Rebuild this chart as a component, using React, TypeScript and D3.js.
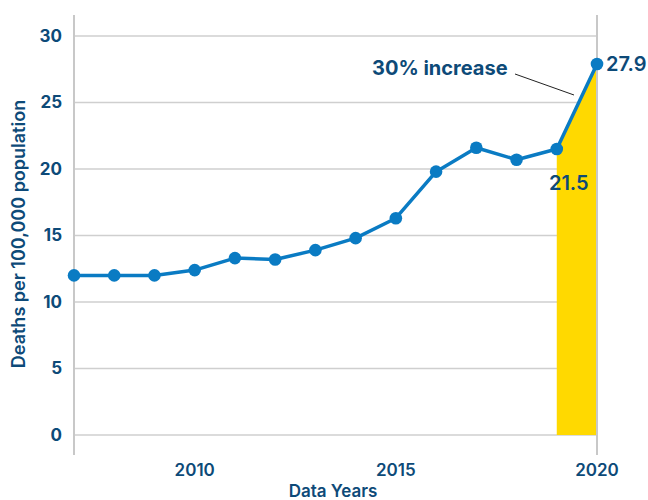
import React from "react";
import * as d3 from "d3";

const years = [2007, 2008, 2009, 2010, 2011, 2012, 2013, 2014, 2015, 2016, 2017, 2018, 2019, 2020];
const rates = [12.0, 12.0, 12.0, 12.4, 13.3, 13.2, 13.9, 14.8, 16.3, 19.8, 21.6, 20.7, 21.5, 27.9];
const yTicks = [0, 5, 10, 15, 20, 25, 30];
const xTicks = [2010, 2015, 2020];
const highlightYears = [2019, 2020];

const W = 648, H = 500;
const left = 74, right = 597, top = 36, bottom = 435;
const textColor = "#0d4a78";
const lineColor = "#0a7bc3";
const font = "Inter, 'Open Sans', sans-serif";

export default function App() {
  const x = d3.scaleLinear().domain([2007, 2020]).range([left, right]);
  const y = d3.scaleLinear().domain([0, 30]).range([bottom, top]);
  const pts = years.map((yr, i) => ({ yr, v: rates[i] }));
  const line = d3.line<{ yr: number; v: number }>().x(d => x(d.yr)).y(d => y(d.v));
  const area = d3.area<{ yr: number; v: number }>().x(d => x(d.yr)).y0(y(0)).y1(d => y(d.v));
  const hl = pts.filter(p => highlightYears.includes(p.yr));
  const last = pts[pts.length - 1];
  const prev = pts[pts.length - 2];
  return (
    <svg width={W} height={H} style={{ position: "absolute", left: 0, top: 0 }} fontFamily={font}>
      <rect width={W} height={H} fill="#fff" />
      {yTicks.map(t => (
        <g key={t}>
          <line x1={left} x2={right} y1={y(t)} y2={y(t)} stroke="#cfcfcf" strokeWidth={1.5} />
          <text x={62} y={y(t)} dy="0.35em" textAnchor="end" fontSize={17} fontWeight={700} fill={textColor}>{t}</text>
        </g>
      ))}
      <path d={area(hl) || ""} fill="#ffd900" />
      <line x1={left} x2={left} y1={15} y2={455} stroke="#c8c8c8" strokeWidth={2} />
      <line x1={right} x2={right} y1={15} y2={455} stroke="#c8c8c8" strokeWidth={2} />
      {xTicks.map(t => (
        <text key={t} x={x(t)} y={476} textAnchor="middle" fontSize={17} fontWeight={600} fill={textColor}>{t}</text>
      ))}
      <text x={333} y={497} textAnchor="middle" fontSize={17} fontWeight={600} fill={textColor}>Data Years</text>
      <text transform={`translate(25,${234}) rotate(-90)`} textAnchor="middle" fontSize={18} fontWeight={600} fill={textColor}>Deaths per 100,000 population</text>
      <path d={line(pts) || ""} fill="none" stroke={lineColor} strokeWidth={3.5} strokeLinejoin="round" />
      {pts.map(p => (
        <circle key={p.yr} cx={x(p.yr)} cy={y(p.v)} r={6.3} fill={lineColor} />
      ))}
      <text x={x(last.yr) + 9} y={y(last.v)} dy="0.35em" fontSize={20} fontWeight={600} fill={textColor}>{last.v.toFixed(1)}</text>
      <text x={x(prev.yr) + 12} y={y(prev.v) + 41} textAnchor="middle" fontSize={20} fontWeight={600} fill={textColor}>{prev.v.toFixed(1)}</text>
      <text x={372} y={75} fontSize={20} fontWeight={700} fill={textColor}>30% increase</text>
      <line x1={515} x2={574} y1={74} y2={95} stroke="#222" strokeWidth={1} />
    </svg>
  );
}
